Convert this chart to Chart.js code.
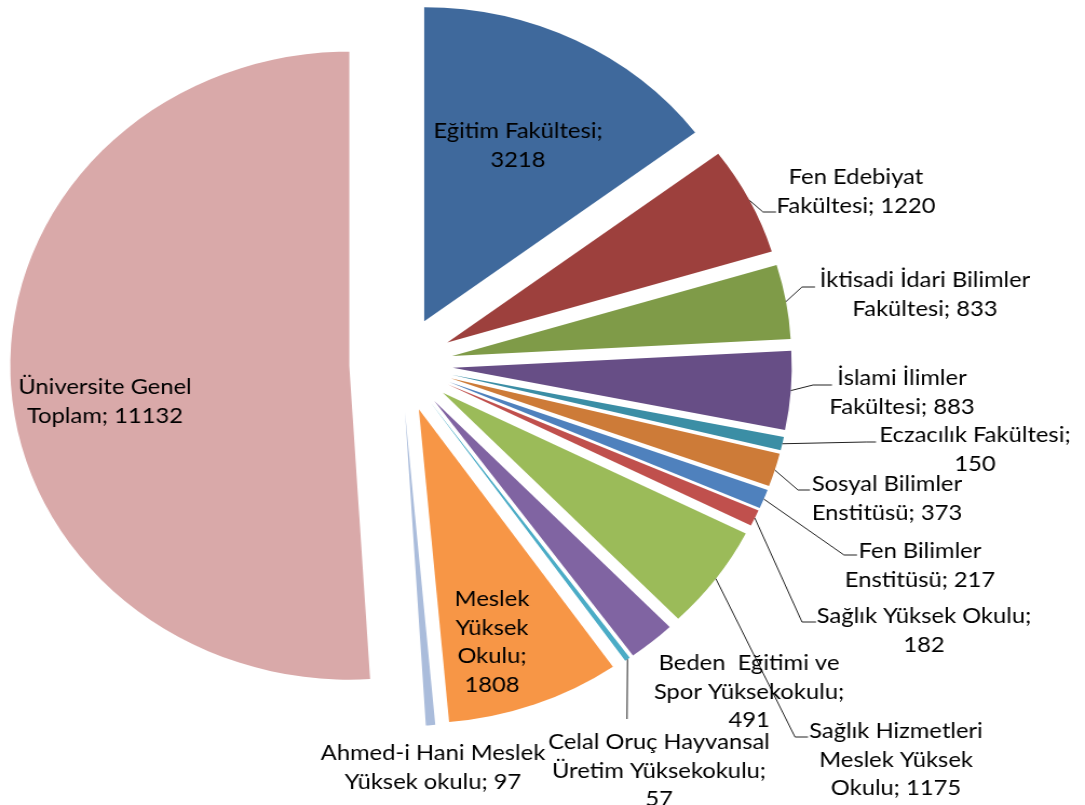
<!DOCTYPE html>
<html>
<head>
<meta charset="utf-8">
<script src="https://cdn.jsdelivr.net/npm/chart.js@4.4.1/dist/chart.umd.min.js"></script>
<style>
    html, body { margin: 0; padding: 0; background: #fff; overflow: hidden; }
    #wrap { width: 1005px; height: 805px; transform: scaleX(1.0796); transform-origin: 0 0; }
</style>
</head>
<body>
<div id="wrap"><canvas id="pie" width="1005" height="805"></canvas></div>
<script>
// data
const units = [
    'Eğitim Fakültesi', 'Fen Edebiyat Fakültesi', 'İktisadi İdari Bilimler Fakültesi',
    'İslami İlimler Fakültesi', 'Eczacılık Fakültesi', 'Sosyal Bilimler Enstitüsü',
    'Fen Bilimler Enstitüsü', 'Sağlık Yüksek Okulu', 'Sağlık Hizmetleri Meslek Yüksek Okulu',
    'Beden Eğitimi ve Spor Yüksekokulu', 'Celal Oruç Hayvansal Üretim Yüksekokulu',
    'Meslek Yüksek Okulu', 'Ahmed-i Hani Meslek Yüksek okulu', 'Üniversite Genel Toplam'
];
const students = [3218, 1220, 833, 883, 150, 373, 217, 182, 1175, 491, 57, 1808, 97, 11132];
const sliceColors = [
    '#3F699C', '#9D403D', '#7F9B48', '#674E86', '#3B8EA5', '#CD7B38',
    '#4F81BD', '#C0504D', '#9BBB59', '#8064A2', '#4BACC6', '#F79646', '#AABCDB', '#D9A9A9'
];

// label text as it is wrapped in the picture
const labelLines = [
    ['Eğitim Fakültesi;', '3218'],
    ['Fen Edebiyat', 'Fakültesi; 1220'],
    ['İktisadi İdari Bilimler', 'Fakültesi; 833'],
    ['İslami İlimler', 'Fakültesi; 883'],
    ['Eczacılık Fakültesi;', '150'],
    ['Sosyal Bilimler', 'Enstitüsü; 373'],
    ['Fen Bilimler', 'Enstitüsü; 217'],
    ['Sağlık Yüksek Okulu;', '182'],
    ['Sağlık Hizmetleri', 'Meslek Yüksek', 'Okulu; 1175'],
    ['Beden  Eğitimi ve', 'Spor Yüksekokulu;', '491'],
    ['Celal Oruç Hayvansal', 'Üretim Yüksekokulu;', '57'],
    ['Meslek', 'Yüksek', 'Okulu;', '1808'],
    ['Ahmed-i Hani Meslek', 'Yüksek okulu; 97'],
    ['Üniversite Genel', 'Toplam; 11132']
];
// label placement on the page: centre x, first line y
const labelPos = [
    [518, 131], [856, 177], [925, 280], [902, 378], [975, 435], [887, 484], [920, 551],
    [924, 616], [896, 731], [749, 663], [659, 742], [492, 599], [433, 753], [105, 387]
];
// leader lines: elbow and end on the page, null = no leader
const leaders = [
    null, [763, 212, 776, 212], [802, 287, 815, 287], [813, 385, 832, 385],
    [866, 442, 876, 442], [798, 490, 810, 490], [844, 555, 857, 555], [802, 622, 816, 622],
    [795, 737, 808, 737], null, [627, 719, 627, 719], null, null, null
];

const SX = 1.0796;
const EXPLODE = 48;
const LINE_H = 28.7;

// push every slice out along its middle angle, keeping one radius
const explodePlugin = {
    id: 'explode',
    beforeDatasetsDraw(chart) {
        const a = chart.chartArea;
        const cx = (a.left + a.right) / 2;
        const cy = (a.top + a.bottom) / 2;
        chart.getDatasetMeta(0).data.forEach(arc => {
            const mid = (arc.startAngle + arc.endAngle) / 2;
            arc.x = cx + Math.cos(mid) * EXPLODE;
            arc.y = cy + Math.sin(mid) * EXPLODE;
        });
    }
};

const labelPlugin = {
    id: 'sliceLabels',
    afterDatasetsDraw(chart) {
        const ctx = chart.ctx;
        const arcs = chart.getDatasetMeta(0).data;
        ctx.save();
        ctx.strokeStyle = '#222';
        ctx.lineWidth = 1;
        arcs.forEach((arc, i) => {
            const l = leaders[i];
            if (!l) return;
            const mid = (arc.startAngle + arc.endAngle) / 2;
            ctx.beginPath();
            ctx.moveTo(arc.x + Math.cos(mid) * arc.outerRadius, arc.y + Math.sin(mid) * arc.outerRadius);
            ctx.lineTo(l[0] / SX, l[1]);
            ctx.lineTo(l[2] / SX, l[3]);
            ctx.stroke();
        });
        ctx.fillStyle = '#000';
        ctx.font = '22px Lato';
        ctx.textAlign = 'center';
        ctx.textBaseline = 'middle';
        labelLines.forEach((lines, i) => {
            const [x, y] = labelPos[i];
            lines.forEach((t, k) => ctx.fillText(t, x / SX, y + k * LINE_H));
        });
        ctx.restore();
    }
};

function draw() {
    new Chart(document.getElementById('pie'), {
        type: 'pie',
        data: {
            labels: units,
            datasets: [{
                data: students,
                backgroundColor: sliceColors,
                borderWidth: 0
            }]
        },
        options: {
            responsive: false,
            animation: false,
            events: [],
            radius: 314,
            layout: { padding: { left: 0, top: 0, right: 262, bottom: 76.6 } },
            plugins: { legend: { display: false }, tooltip: { enabled: false } }
        },
        plugins: [explodePlugin, labelPlugin]
    });
}

document.fonts.load('22px Lato').then(draw, draw);
</script>
</body>
</html>
